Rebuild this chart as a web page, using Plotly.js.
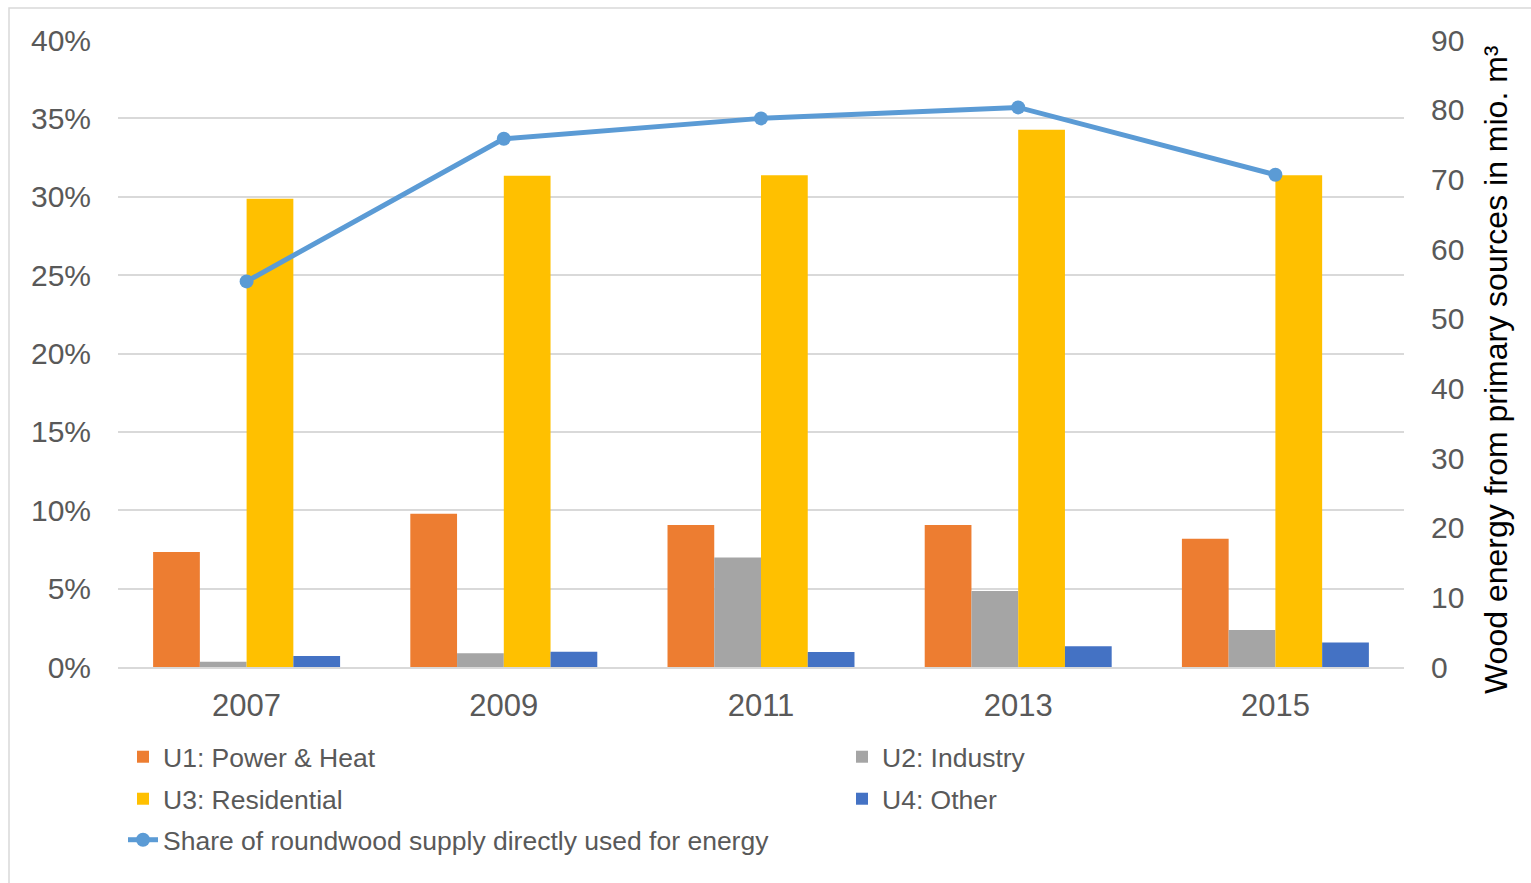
<!DOCTYPE html>
<html>
<head>
<meta charset="utf-8">
<script src="https://cdn.plot.ly/plotly-3.0.1.min.js"></script>
<style>html,body{margin:0;padding:0;background:#fff;}#chart{width:1531px;height:883px;}</style>
</head>
<body>
<div id="chart"></div>
<script>
// ---- data ----
var years = ['2007', '2009', '2011', '2013', '2015'];
var u1PowerHeat = [16.5, 22.0, 20.4, 20.4, 18.4];
var u2Industry = [0.76, 1.97, 15.7, 10.9, 5.3];
var u3Residential = [67.2, 70.5, 70.6, 77.1, 70.6];
var u4Other = [1.58, 2.2, 2.15, 2.97, 3.5];
var shareEnergy = [0.246, 0.337, 0.350, 0.357, 0.314];

var leftTicks = [0, 0.05, 0.10, 0.15, 0.20, 0.25, 0.30, 0.35, 0.40];
var rightTicks = [0, 10, 20, 30, 40, 50, 60, 70, 80, 90];

var FONT = 'Liberation Sans, Arial, sans-serif';
var GRAY = '#595959';

function barTrace(name, vals, color, legendId) {
  return {
    type: 'bar', name: name, x: years, y: vals,
    marker: {color: color, line: {width: 0}},
    yaxis: 'y', legend: legendId, hoverinfo: 'x+y+name'
  };
}

var traces = [
  barTrace('U1: Power &amp; Heat', u1PowerHeat, '#ED7D31', 'legend'),
  barTrace('U2: Industry', u2Industry, '#A5A5A5', 'legend2'),
  barTrace('U3: Residential', u3Residential, '#FFC000', 'legend3'),
  barTrace('U4: Other', u4Other, '#4472C4', 'legend4'),
  {
    type: 'scatter', mode: 'lines+markers',
    name: 'Share of roundwood supply directly used for energy',
    x: years, y: shareEnergy, yaxis: 'y2', legend: 'legend5',
    line: {color: '#5B9BD5', width: 5},
    marker: {color: '#5B9BD5', size: 14}
  }
];

// legend positions (paper coords, plot area spans 118..1404 x, 40..667 y)
function px2x(px) { return (px - 118) / 1286; }
function py2y(py) { return 1 - (py - 40) / 627; }

function legendAt(px, py) {
  return {
    x: px2x(px), y: py2y(py), xanchor: 'left', yanchor: 'middle',
    orientation: 'v', bgcolor: 'rgba(0,0,0,0)', borderwidth: 0,
    font: {family: FONT, size: 26.5, color: GRAY}
  };
}

var layout = {
  width: 1531, height: 883,
  margin: {l: 118, r: 127, t: 40, b: 216},
  paper_bgcolor: '#ffffff', plot_bgcolor: '#ffffff',
  font: {family: FONT, color: GRAY},
  barmode: 'group', bargap: 0.273, bargroupgap: 0,
  showlegend: true,
  xaxis: {
    type: 'category', tickvals: years, ticktext: years,
    showgrid: false, zeroline: false,
    showline: true, linecolor: '#d9d9d9', linewidth: 1.5,
    ticks: '', ticklabelstandoff: 10,
    tickfont: {family: FONT, size: 31, color: GRAY}
  },
  yaxis: {
    side: 'right', range: [0, 90], tickvals: rightTicks,
    ticktext: rightTicks.map(String),
    showgrid: false, zeroline: false, showline: false, ticks: '',
    ticklabelstandoff: 26,
    tickfont: {family: FONT, size: 30, color: GRAY}
  },
  yaxis2: {
    overlaying: 'y', side: 'left', range: [0, 0.40],
    tickvals: leftTicks, tickformat: '.0%',
    showgrid: true, gridcolor: '#d9d9d9', gridwidth: 1.5,
    zeroline: false, showline: false, ticks: '',
    ticklabelstandoff: 26,
    tickfont: {family: FONT, size: 30, color: GRAY}
  },
  annotations: [{
    text: 'Wood energy from primary sources in mio. m³',
    xref: 'paper', yref: 'paper', x: px2x(1496), y: py2y(370),
    xanchor: 'center', yanchor: 'middle', textangle: -90, showarrow: false,
    font: {family: FONT, size: 32, color: '#000000'}
  }],
  legend: legendAt(123, 757),
  legend2: legendAt(842, 757),
  legend3: legendAt(123, 799),
  legend4: legendAt(842, 799),
  legend5: legendAt(123, 840),
  shapes: [{
    type: 'rect', xref: 'paper', yref: 'paper', layer: 'below',
    x0: px2x(9), x1: px2x(1545), y0: py2y(900), y1: py2y(8),
    line: {color: '#d9d9d9', width: 1.5}, fillcolor: 'rgba(0,0,0,0)'
  }]
};

Plotly.newPlot('chart', traces, layout, {displayModeBar: false, responsive: false});
</script>
</body>
</html>
